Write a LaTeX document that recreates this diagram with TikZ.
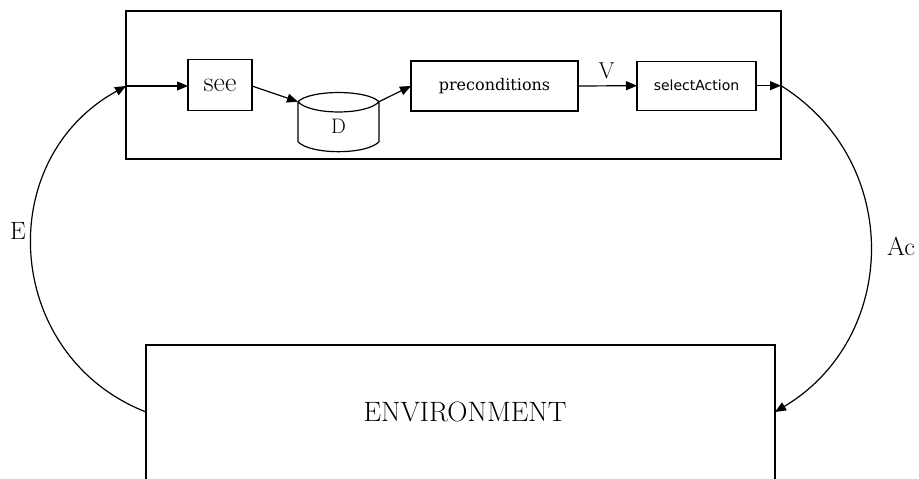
\documentclass[tikz,border=0pt]{standalone}
\usepackage{fontspec}
\newfontfamily\dvserif{DejaVuSerif.ttf}
\newfontfamily\dvsans{DejaVu Sans}
\usetikzlibrary{arrows.meta}
\begin{document}
\begin{tikzpicture}[x=1pt,y=1pt,
  line width=1.2pt,
  box/.style={draw, inner sep=0pt, outer sep=0pt},
  arr/.style={-{Triangle[length=11pt,width=9pt]}},
  lbl/.style={inner sep=0pt}]
\useasboundingbox (0,0) rectangle (919,479);
\clip (0,0) rectangle (919,479);
% agent box
\node[box, minimum width=655pt, minimum height=148pt] (agent) at (453.5,394) {};
\node[box, minimum width=64pt, minimum height=51pt, font=\fontsize{28}{32}\selectfont] (see) at (220,394) {see};
\node[box, minimum width=167pt, minimum height=50pt, font=\dvserif\fontsize{16}{20}\selectfont] (pre) at (494.5,393) {\raisebox{2pt}{preconditions}};
\node[box, minimum width=119pt, minimum height=49pt, font=\dvsans\fontsize{14}{17}\selectfont] (sel) at (696.5,393.3) {selectAction};
% database cylinder
\coordinate (Dtl) at (298,377.3);
\coordinate (Dtr) at (379,377.3);
\coordinate (Dbl) at (298,337.3);
\coordinate (Dbr) at (379,337.3);
\draw (Dtl) .. controls (310,389.5) and (367,389.5) .. (Dtr)
      (Dtl) .. controls (310,363.6) and (367,363.6) .. (Dtr)
      (Dtl) -- (Dbl) .. controls (310,324) and (367,324) .. (Dbr) -- (Dtr);
\node[lbl, font=\fontsize{21}{24}\selectfont] (D) at (338.5,353) {D};
% environment
\node[box, minimum width=629pt, minimum height=160pt] (env) at (460.5,54) {};
\node[lbl, font=\fontsize{28}{32}\selectfont] (envtxt) at (465,67) {ENVIRONMENT};
% internal arrows
\draw[arr] (agent.west |- pre.west) -- (see.west |- pre.west);
\draw[arr] (see.east |- pre.west) -- (Dtl);
\draw[arr] (Dtr) -- (pre.west);
\draw[arr] (pre.east) -- (sel.west);
\node[lbl, font=\fontsize{23}{26}\selectfont] (V) at (606.7,408) {V};
\draw[arr] (sel.east) -- (agent.east |- sel.east);
% E loop
\draw[arr] (env.west |- envtxt.center) .. controls (3.9,122.7) and (-8.7,318.8) .. (agent.west |- pre.west);
\node[lbl, font=\fontsize{25}{28}\selectfont] (E) at (18,248) {E};
% Ac loop
\draw[arr] (agent.east |- sel.east) .. controls (903.1,317.1) and (899.2,141.3) .. (env.east |- envtxt.center);
\node[lbl, font=\fontsize{26}{30}\selectfont] (Ac) at (901,233) {Ac};
\end{tikzpicture}
\end{document}
